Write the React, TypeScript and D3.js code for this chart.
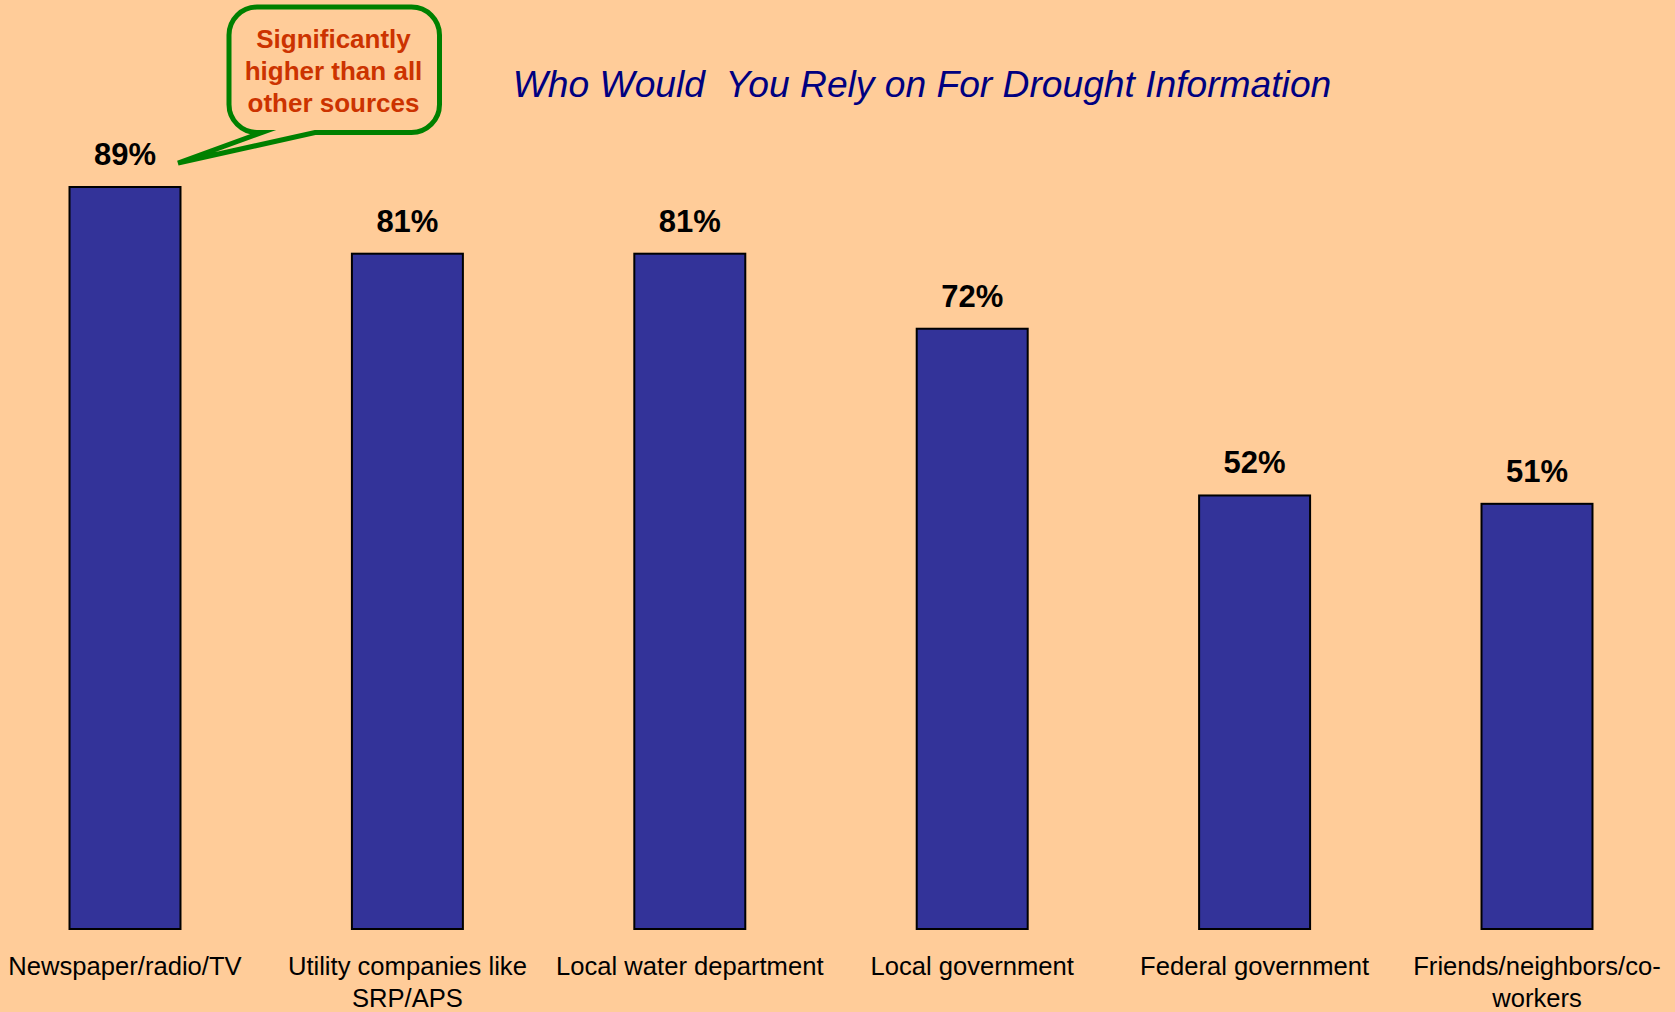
import React from "react";
import * as d3 from "d3";

const categories: string[][] = [
  ["Newspaper/radio/TV"],
  ["Utility companies like", "SRP/APS"],
  ["Local water department"],
  ["Local government"],
  ["Federal government"],
  ["Friends/neighbors/co-", "workers"],
];
const values: number[] = [89, 81, 81, 72, 52, 51];
const valueLabels: string[] = ["89%", "81%", "81%", "72%", "52%", "51%"];
const title = "Who Would\u00a0\u00a0You Rely on For Drought Information";
const calloutLines: string[] = ["Significantly", "higher than all", "other sources"];

const W = 1675;
const H = 1012;
const BG = "#FFCC99";
const BAR = "#333399";
const FONT = "Arial, 'Liberation Sans', Helvetica, sans-serif";

export default function App() {
  const idx = d3.range(values.length);
  const x = d3
    .scaleBand<number>()
    .domain(idx)
    .range([-16.2, 1678.2])
    .paddingInner(0.607)
    .paddingOuter(0.3035);
  const y = d3.scaleLinear().domain([0, 100]).range([929, 95.3]);
  const bw = x.bandwidth();

  // callout geometry
  const L = 229, R = 439.5, T = 7, B = 132.5, r = 28;
  const calloutPath = [
    `M${L + r},${T}`,
    `H${R - r}`,
    `A${r},${r} 0 0 1 ${R},${T + r}`,
    `V${B - r}`,
    `A${r},${r} 0 0 1 ${R - r},${B}`,
    `H315`,
    `L178,163`,
    `L262,${B}`,
    `H${L + r}`,
    `A${r},${r} 0 0 1 ${L},${B - r}`,
    `V${T + r}`,
    `A${r},${r} 0 0 1 ${L + r},${T}`,
    "Z",
  ].join(" ");

  return (
    <svg
      width={W}
      height={H}
      style={{ position: "absolute", left: 0, top: 0, display: "block" }}
    >
      <rect x={0} y={0} width={W} height={H} fill={BG} />
      <text
        x={922}
        y={97}
        textAnchor="middle"
        fontFamily={FONT}
        fontStyle="italic"
        fontSize={37.2}
        fill="#000080"
      >
        {title}
      </text>
      {idx.map((i) => {
        const bx = x(i)!;
        const cx = bx + bw / 2;
        return (
          <g key={i}>
            <rect
              x={bx}
              y={y(values[i])}
              width={bw}
              height={y(0) - y(values[i])}
              fill={BAR}
              stroke="#000"
              strokeWidth={2}
            />
            <text
              x={cx}
              y={y(values[i]) - 22}
              textAnchor="middle"
              fontFamily={FONT}
              fontWeight="bold"
              fontSize={31}
              fill="#000"
            >
              {valueLabels[i]}
            </text>
            {categories[i].map((line, j) => (
              <text
                key={j}
                x={cx}
                y={975 + j * 32}
                textAnchor="middle"
                fontFamily={FONT}
                fontSize={25.6}
                fill="#000"
              >
                {line}
              </text>
            ))}
          </g>
        );
      })}
      <path
        d={calloutPath}
        fill={BG}
        stroke="#008000"
        strokeWidth={5}
        strokeLinejoin="miter"
        strokeMiterlimit={10}
      />
      {calloutLines.map((line, j) => (
        <text
          key={j}
          x={333.5}
          y={48 + j * 32}
          textAnchor="middle"
          fontFamily={FONT}
          fontWeight="bold"
          fontSize={26}
          fill="#CC3300"
        >
          {line}
        </text>
      ))}
    </svg>
  );
}
